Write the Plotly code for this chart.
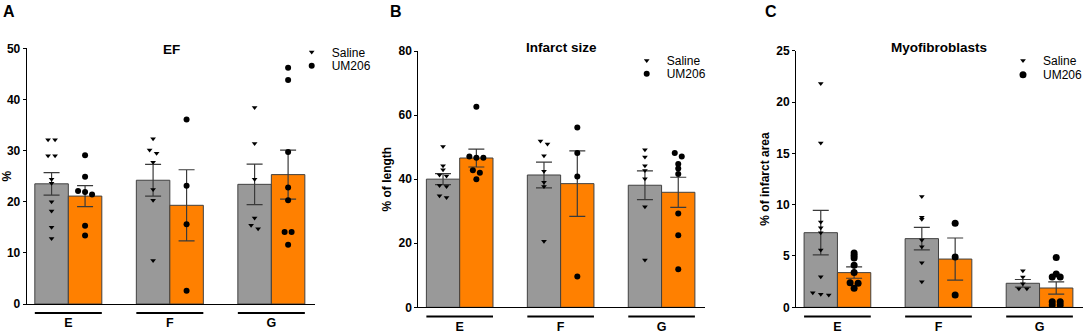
import plotly.graph_objects as go

# ---------------- data ----------------
groups = ["E", "F", "G"]
series_names = ["Saline", "UM206"]

# Panel A - EF (%)
ef_saline_mean = [23.5, 24.2, 23.4]
ef_saline_sem = [2.2, 3.1, 3.95]
ef_um_mean = [21.1, 19.3, 25.3]
ef_um_sem = [2.05, 6.95, 4.8]
ef_saline_pts = [[32.1, 32.1, 29.0, 29.0, 24.4, 23.6, 20.0, 18.2, 15.0, 12.8],
                 [32.3, 30.1, 29.5, 27.7, 22.4, 20.3, 8.5],
                 [38.4, 31.4, 24.4, 16.8, 15.4, 14.7]]
ef_um_pts = [[29.1, 24.9, 22.1, 21.9, 21.4, 15.3, 13.4],
             [36.1, 23.1, 15.6, 2.6],
             [46.2, 43.8, 29.7, 22.8, 20.3, 14.1, 14.1, 11.6]]

# Panel B - Infarct size (% of length)
is_saline_mean = [40.0, 41.3, 38.1]
is_saline_sem = [1.7, 4.0, 4.5]
is_um_mean = [46.6, 38.6, 35.9]
is_um_sem = [2.8, 10.2, 4.7]
is_saline_pts = [[50.2, 44.2, 42.9, 41.3, 41.0, 38.0, 37.7, 34.8, 34.3],
                 [51.9, 51.0, 47.3, 42.5, 39.0, 37.7, 20.6],
                 [49.2, 46.9, 44.2, 42.7, 40.1, 31.4, 14.8]]
is_um_pts = [[62.6, 47.1, 46.7, 46.7, 42.8, 42.0, 40.0],
             [56.1, 48.2, 40.8, 9.6],
             [48.2, 47.1, 44.7, 43.3, 41.6, 29.3, 22.5, 11.9]]

# Panel C - Myofibroblasts (% of infarct area)
mf_saline_mean = [7.27, 6.69, 2.34]
mf_saline_sem = [2.17, 1.1, 0.37]
mf_um_mean = [3.38, 4.7, 1.88]
mf_um_sem = [0.55, 2.05, 0.6]
mf_saline_pts = [[21.8, 16.0, 8.3, 7.75, 7.26, 5.58, 2.98, 1.42, 1.27, 1.2],
                 [10.8, 8.77, 8.57, 6.56, 5.9, 4.35, 2.5],
                 [3.55, 2.95, 2.3, 1.8, 1.8]]
mf_um_pts = [[5.3, 5.05, 4.8, 4.1, 3.4, 2.4, 2.35, 1.85],
             [8.18, 4.9, 1.2],
             [4.85, 3.25, 2.95, 2.95, 0.55, 0.55, 0.22, 0.22]]

# ---------------- layout geometry ----------------
W, H = 1084, 333
FONT = "Liberation Sans, Arial, sans-serif"
GRAY = "#999999"
ORANGE = "#FF8000"
EDGE = "#404040"
XR = [-0.41, 2.43]
BW = 0.33

panels = [
    dict(key="", title="EF", ytitle="%", letter="A", yr=[0, 50], dt=10,
         px=(26.7, 315), py=(48.3, 304), uline=313, tstand=7,
         s_mean=ef_saline_mean, s_sem=ef_saline_sem, u_mean=ef_um_mean, u_sem=ef_um_sem,
         s_pts=ef_saline_pts, u_pts=ef_um_pts, msz=(5, 6), thr=4, sp=7,
         leg=(331.7, 52.3, 66.0), lett=(8.5, 12), tit=(171, 50)),
    dict(key="2", title="Infarct size", ytitle="% of length", letter="B", yr=[0, 80], dt=20,
         px=(418.3, 705), py=(51, 307.3), uline=316.5, tstand=8,
         s_mean=is_saline_mean, s_sem=is_saline_sem, u_mean=is_um_mean, u_sem=is_um_sem,
         s_pts=is_saline_pts, u_pts=is_um_pts, msz=(5, 6), thr=4, sp=7,
         leg=(666.7, 60.7, 74.0), lett=(396, 11), tit=(561, 47)),
    dict(key="3", title="Myofibroblasts", ytitle="% of infarct area", letter="C", yr=[0, 25], dt=5,
         px=(796, 1083), py=(50.7, 307.3), uline=316.5, tstand=8,
         s_mean=mf_saline_mean, s_sem=mf_saline_sem, u_mean=mf_um_mean, u_sem=mf_um_sem,
         s_pts=mf_saline_pts, u_pts=mf_um_pts, msz=(5, 7), thr=2, sp=8,
         leg=(1043, 60.7, 75.0), lett=(771, 11), tit=(939, 47)),
]


def swarm(vals, center, ppu_y, ppu_x, thresh, spacing):
    order = sorted(range(len(vals)), key=lambda i: -vals[i])
    clusters, cur = [], [order[0]]
    for i in order[1:]:
        if (vals[cur[-1]] - vals[i]) * ppu_y < thresh:
            cur.append(i)
        else:
            clusters.append(cur)
            cur = [i]
    clusters.append(cur)
    xs = [center] * len(vals)
    for c in clusters:
        n = len(c)
        for k, i in enumerate(c):
            xs[i] = center + (k - (n - 1) / 2) * spacing / ppu_x
    return xs


fig = go.Figure()
annotations = []
shapes = []
layout_extra = {}
leg_count = 0

for p in panels:
    k = p["key"]
    xa, ya = "x" + k, "y" + k
    ppu_x = (p["px"][1] - p["px"][0]) / (XR[1] - XR[0])
    ppu_y = (p["py"][1] - p["py"][0]) / (p["yr"][1] - p["yr"][0])
    centers = list(range(len(groups)))

    for si, (means, sems, color) in enumerate([(p["s_mean"], p["s_sem"], GRAY),
                                                (p["u_mean"], p["u_sem"], ORANGE)]):
        off = -BW / 2 if si == 0 else BW / 2
        fig.add_trace(go.Bar(
            x=[c + off for c in centers], y=means, width=BW,
            marker=dict(color=color, line=dict(color=EDGE, width=1)),
            error_y=dict(type="data", array=sems, visible=True, color="#3a3a3a",
                         thickness=1.2, width=8),
            xaxis=xa, yaxis=ya, showlegend=False, hoverinfo="skip"))

    for si, (pts, sym) in enumerate([(p["s_pts"], "triangle-down"), (p["u_pts"], "circle")]):
        off = -BW / 2 if si == 0 else BW / 2
        xs, ys = [], []
        for gi, vals in enumerate(pts):
            xs += swarm(vals, gi + off, ppu_y, ppu_x, p["thr"], p["sp"])
            ys += vals
        leg_count += 1
        legname = "legend" if leg_count == 1 else "legend%d" % leg_count
        fig.add_trace(go.Scatter(
            x=xs, y=ys, mode="markers", name=series_names[si],
            marker=dict(symbol=sym, size=p["msz"][si], color="black", line=dict(width=0)),
            xaxis=xa, yaxis=ya, legend=legname, showlegend=True))
        cy = p["leg"][1 + si]
        layout_extra[legname] = dict(
            x=(p["leg"][0] - 40) / W, y=1 - (cy - 14.7) / H, xanchor="left", yanchor="top",
            bgcolor="rgba(0,0,0,0)", font=dict(family=FONT, size=12, color="black"),
            itemsizing="trace")

    dom_x = [p["px"][0] / W, p["px"][1] / W]
    dom_y = [1 - p["py"][1] / H, 1 - p["py"][0] / H]
    layout_extra["xaxis" + k] = dict(
        domain=dom_x, range=XR, tickvals=centers, ticktext=groups, showgrid=False,
        zeroline=False, showline=True, linecolor="black", linewidth=1, ticks="",
        ticklabelstandoff=p["tstand"], automargin=False,
        tickfont=dict(family=FONT, size=12.5, color="black", weight="bold"),
        anchor=ya, fixedrange=True)
    layout_extra["yaxis" + k] = dict(
        domain=dom_y, range=p["yr"], dtick=p["dt"], showgrid=False, zeroline=False,
        showline=True, linecolor="black", linewidth=1, ticks="outside", ticklen=3,
        tickcolor="black", automargin=False,
        tickfont=dict(family=FONT, size=12, color="black", weight="bold"),
        title=dict(text=p["ytitle"], standoff=4,
                   font=dict(family=FONT, size=12, color="black", weight="bold")),
        anchor=xa, fixedrange=True)

    # group underlines
    for gi in centers:
        shapes.append(dict(type="line", xref=xa, yref="paper",
                           x0=gi - BW, x1=gi + BW,
                           y0=1 - p["uline"] / H, y1=1 - p["uline"] / H,
                           line=dict(color="black", width=2)))
    # panel letter
    annotations.append(dict(text=p["letter"], x=p["lett"][0] / W, y=1 - p["lett"][1] / H,
                            xref="paper", yref="paper", showarrow=False,
                            xanchor="center", yanchor="middle",
                            font=dict(family=FONT, size=16, color="black", weight="bold")))
    # panel title
    annotations.append(dict(text=p["title"], x=p["tit"][0] / W, y=1 - p["tit"][1] / H,
                            xref="paper", yref="paper", showarrow=False,
                            xanchor="center", yanchor="middle",
                            font=dict(family=FONT, size=13.5, color="black", weight="bold")))

fig.update_layout(
    width=W, height=H, margin=dict(l=0, r=0, t=0, b=0, pad=0, autoexpand=False),
    paper_bgcolor="white", plot_bgcolor="white",
    barmode="overlay", annotations=annotations, shapes=shapes,
    font=dict(family=FONT, color="black"),
    **layout_extra)

fig.write_html("out.html",
               config={"displayModeBar": False},
               post_script="document.body.style.margin='0';document.body.style.overflow='hidden';")
